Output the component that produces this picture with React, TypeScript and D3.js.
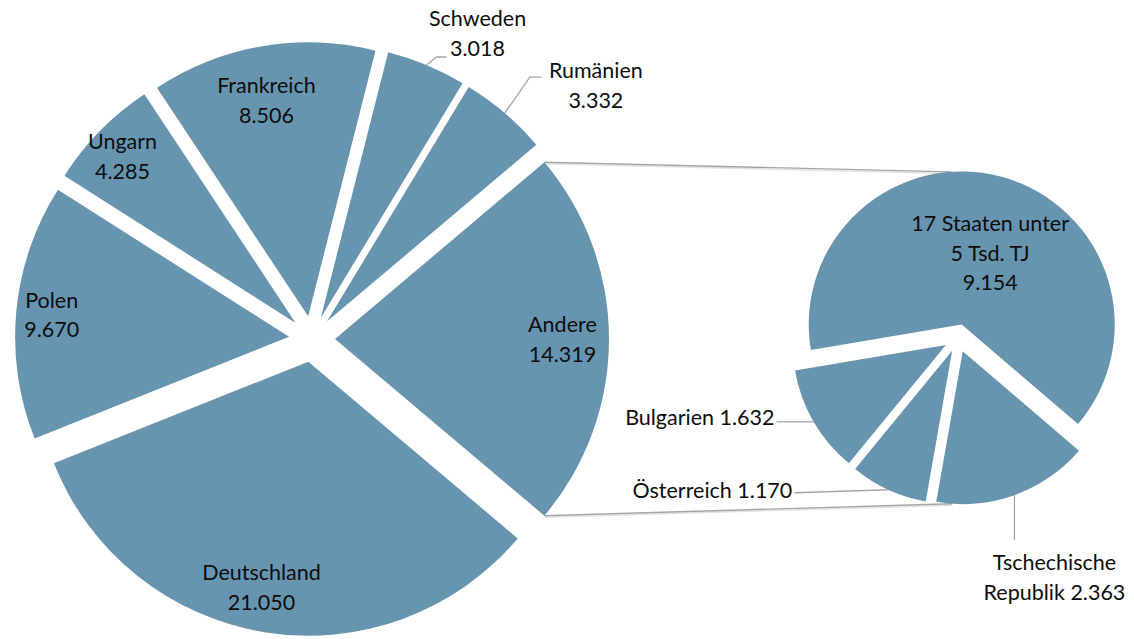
import * as d3 from "d3";

// Hauptkreis (Werte in TJ)
const mainNames = ["Deutschland", "Polen", "Ungarn", "Frankreich", "Schweden", "Rumänien", "Andere"];
const mainValues = [21050, 9670, 4285, 8506, 3018, 3332, 14319];

// Sekundärkreis: Aufteilung von "Andere"
const subNames = ["17 Staaten unter\n5 Tsd. TJ", "Tschechische\nRepublik", "Österreich", "Bulgarien"];
const subValues = [9154, 2363, 1170, 1632];

const de = d3.formatLocale({ decimal: ",", thousands: ".", grouping: [3], currency: ["", " €"] });
const fmt = de.format(",.0f");

type LabelSpec = {
  k?: number; // radial factor for inside labels
  dx?: number;
  dy?: number;
  text?: [number, number]; // outside: offset of label from arc midpoint
  leader?: [number, number][];
  anchor?: "start" | "middle" | "end";
  oneLine?: boolean;
};

const labelLayout: Record<string, LabelSpec> = {
  Deutschland: { k: 0.84, dx: -10, dy: -2 },
  Polen: { k: 0.87 },
  Ungarn: { k: 0.87, dx: -3 },
  Frankreich: { k: 0.8, dx: -5 },
  Andere: { k: 0.83 },
  Schweden: { text: [51, -32], leader: [[10, -8], [20, -8]] },
  "Rumänien": { text: [91, -28], leader: [[25, -36], [37, -36]] },
  "17 Staaten unter\n5 Tsd. TJ": { k: 0.5, dx: 8, dy: 2 },
  "Tschechische\nRepublik": { text: [40, 82], leader: [[0, 45]], oneLine: true },
  "Österreich": { text: [-96, 0], leader: [[-94, 3]], anchor: "end", oneLine: true },
  Bulgarien: { text: [-39, -5], leader: [[-37, 0]], anchor: "end", oneLine: true },
};

const W = 1134;
const H = 639;
const FILL = "#6795B0";
const LINE = "#A5A5A5";
const TEXT = "#0d0d0d";
const LH = 29.5;

const main = { cx: 312, cy: 339, r: 274, explode: 23 };
const sub = { cx: 958, cy: 338, r: 153, explode: 14 };

const polar = (a: number, r: number): [number, number] => [r * Math.sin(a), -r * Math.cos(a)];
const rad = (deg: number) => (deg * Math.PI) / 180;

type Slice = d3.PieArcDatum<number> & { name: string; ox: number; oy: number; mid: number };

function layout(names: string[], values: number[], start: number, explode: number): Slice[] {
  const arcs = d3.pie<number>().sort(null).startAngle(start).endAngle(start + 2 * Math.PI)(values);
  return arcs.map((a, i) => {
    const mid = (a.startAngle + a.endAngle) / 2;
    const [ox, oy] = polar(mid, explode);
    return { ...a, name: names[i], ox, oy, mid };
  });
}

function Label({ s, pie, value }: { s: Slice; pie: typeof main; value: number }) {
  const spec = labelLayout[s.name] || { k: 0.8 };
  const lines = spec.oneLine
    ? `${s.name} ${fmt(value)}`.split("\n")
    : [...s.name.split("\n"), fmt(value)];
  let x: number, y: number;
  let leader: string | null = null;
  if (spec.text) {
    const [mx, my] = polar(s.mid, pie.r);
    const ax = pie.cx + s.ox + mx;
    const ay = pie.cy + s.oy + my;
    x = ax + spec.text[0];
    y = ay + spec.text[1];
    const pts: [number, number][] = [[ax, ay], ...(spec.leader || []).map(([dx, dy]) => [ax + dx, ay + dy] as [number, number])];
    leader = d3.line()(pts);
  } else {
    const [px, py] = polar(s.mid, pie.explode + (spec.k ?? 0.8) * pie.r);
    x = pie.cx + px + (spec.dx || 0);
    y = pie.cy + py + (spec.dy || 0);
  }
  return (
    <g>
      {leader && <path d={leader} fill="none" stroke={LINE} strokeWidth={1.3} />}
      <text
        x={x}
        y={y}
        textAnchor={spec.anchor || "middle"}
        fill={TEXT}
        fontFamily="Lato, 'Open Sans', sans-serif"
        fontSize={21.5}
      >
        {lines.map((l, i) => (
          <tspan key={i} x={x} y={y + (i - (lines.length - 1) / 2) * LH} dominantBaseline="central">
            {l}
          </tspan>
        ))}
      </text>
    </g>
  );
}

export default function App() {
  const mainTotal = d3.sum(mainValues);
  const other = mainValues[mainValues.length - 1];
  // "Andere" sits centred on the right, facing the secondary pie
  const mainStart = Math.PI / 2 + (Math.PI * other) / mainTotal;
  const mainSlices = layout(mainNames, mainValues, mainStart, main.explode);
  const subSlices = layout(subNames, subValues, rad(-99.6), sub.explode);

  const arcMain = d3.arc<d3.PieArcDatum<number>>().innerRadius(0).outerRadius(main.r);
  const arcSub = d3.arc<d3.PieArcDatum<number>>().innerRadius(0).outerRadius(sub.r);

  // connector lines from "Andere" corners to the secondary pie
  const andere = mainSlices[mainSlices.length - 1];
  const pt = (p: typeof main, s: Slice, a: number): [number, number] => {
    const [x, y] = polar(a, p.r);
    return [p.cx + s.ox + x, p.cy + s.oy + y];
  };
  const top0 = pt(main, andere, andere.startAngle);
  const bot0 = pt(main, andere, andere.endAngle);
  const top1 = pt(sub, subSlices[0], rad(-4));
  const bot1 = pt(sub, subSlices[1], rad(184));
  const connectors = [
    [top0, top1],
    [bot0, bot1],
  ] as [number, number][][];

  return (
    <svg
      width={W}
      height={H}
      viewBox={`0 0 ${W} ${H}`}
      style={{ position: "absolute", left: 0, top: 0, background: "#fff" }}
    >
      {connectors.map((c, i) => (
        <g key={i}>
          <path d={d3.line()(c) || ""} transform="translate(0.5,1.5)" stroke="#e2e2e2" strokeWidth={1.5} fill="none" />
          <path d={d3.line()(c) || ""} stroke={LINE} strokeWidth={1.4} fill="none" />
        </g>
      ))}
      {mainSlices.map((s, i) => (
        <path
          key={i}
          d={arcMain(s) || ""}
          transform={`translate(${main.cx + s.ox},${main.cy + s.oy})`}
          fill={FILL}
        />
      ))}
      {subSlices.map((s, i) => (
        <path
          key={i}
          d={arcSub(s) || ""}
          transform={`translate(${sub.cx + s.ox},${sub.cy + s.oy})`}
          fill={FILL}
        />
      ))}
      {mainSlices.map((s, i) => (
        <Label key={i} s={s} pie={main} value={mainValues[i]} />
      ))}
      {subSlices.map((s, i) => (
        <Label key={i} s={s} pie={sub} value={subValues[i]} />
      ))}
    </svg>
  );
}
